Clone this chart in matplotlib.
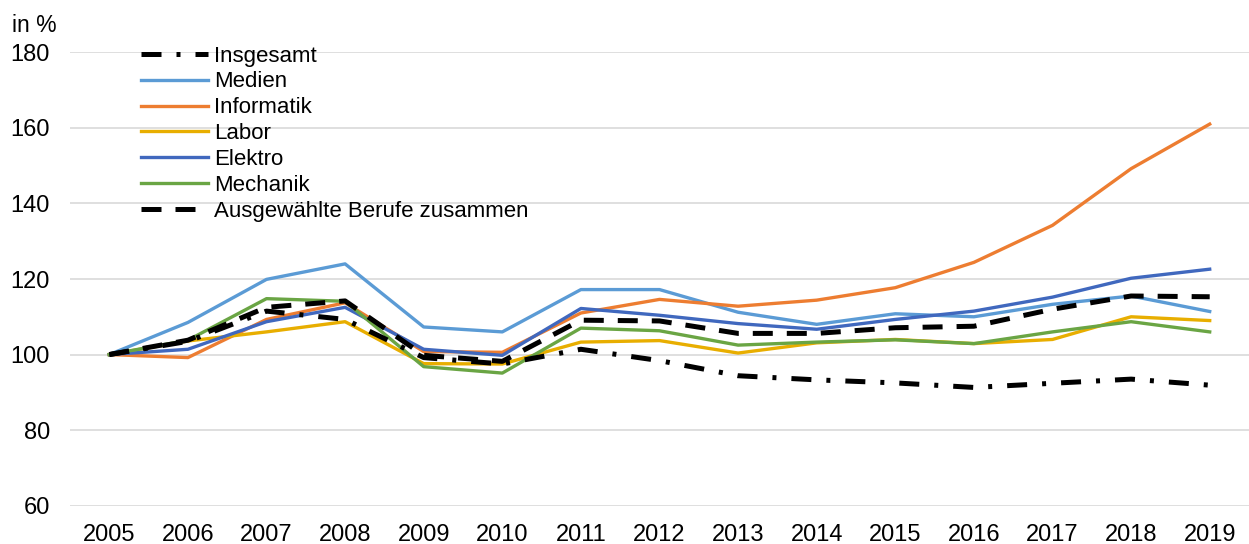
import matplotlib
matplotlib.use("Agg")
import matplotlib.pyplot as plt

years = [str(y) for y in range(2005, 2020)]
insgesamt = [100, 103.5, 111.5, 109.3, 99.2, 97.5, 101.4, 98.4, 94.4, 93.3, 92.5, 91.3, 92.4, 93.5, 91.9]
medien = [100, 108.5, 119.9, 124.0, 107.3, 106.0, 117.2, 117.2, 111.2, 108.0, 110.8, 110.0, 113.3, 115.5, 111.4]
informatik = [100, 99.2, 109.3, 113.7, 100.8, 100.6, 111.0, 114.6, 112.8, 114.4, 117.7, 124.4, 134.2, 149.2, 161.0]
labor = [100, 103.6, 106.0, 108.7, 97.6, 97.5, 103.3, 103.7, 100.4, 103.1, 104.0, 102.9, 104.0, 110.0, 109.0]
elektro = [100, 101.4, 108.7, 112.5, 101.4, 99.8, 112.2, 110.4, 108.2, 106.7, 109.3, 111.5, 115.2, 120.2, 122.6]
mechanik = [100, 103.8, 114.8, 114.1, 96.8, 95.1, 107.0, 106.3, 102.5, 103.3, 103.9, 102.9, 106.0, 108.7, 106.0]
zusammen = [100, 103.8, 112.5, 114.2, 99.8, 98.2, 109.1, 108.9, 105.6, 105.6, 107.1, 107.5, 112.0, 115.5, 115.3]
yticks = [60, 80, 100, 120, 140, 160, 180]

plt.rcParams['font.family'] = ['Liberation Sans', 'DejaVu Sans']

W, H = 1249, 544
fig = plt.figure(figsize=(W / 100, H / 100), dpi=100)
ax = fig.add_axes([70 / W, 1 - 505.7 / H, 1 - 70 / W, (505.7 - 52.3) / H])

x = list(range(len(years)))
ax.plot(x, insgesamt, color='black', lw=3.6, linestyle=(0, (4, 3, 0.8, 3)), label='Insgesamt', zorder=3)
ax.plot(x, medien, color='#5B9BD5', lw=2.4, label='Medien', zorder=2)
ax.plot(x, informatik, color='#ED7D31', lw=2.4, label='Informatik', zorder=2)
ax.plot(x, labor, color='#E8AE00', lw=2.4, label='Labor', zorder=2)
ax.plot(x, elektro, color='#4068BE', lw=2.4, label='Elektro', zorder=2)
ax.plot(x, mechanik, color='#6AA544', lw=2.4, label='Mechanik', zorder=2)
ax.plot(x, zusammen, color='black', lw=3.6, linestyle=(0, (4, 2.8)), label='Ausgewählte Berufe zusammen', zorder=4)

ax.set_xlim(-0.5, len(years) - 0.5)
ax.set_ylim(60, 180)
ax.set_xticks(x)
ax.set_xticklabels(years)
ax.set_yticks(yticks)
ax.tick_params(axis='both', length=0, labelsize=17, colors='black')
ax.tick_params(axis='y', pad=14.4)
ax.tick_params(axis='x', pad=13)
ax.grid(axis='y', color='#D9D9D9', lw=1.2)
ax.set_axisbelow(True)
for s in ax.spines.values():
    s.set_visible(False)

fig.text(12 / W, 1 - 26 / H, 'in %', fontsize=16.5, va='center', ha='left')

leg = fig.legend(loc='upper left', bbox_to_anchor=(121 / W, 1 - 25.6 / H), frameon=False,
                 fontsize=16, handlelength=3.0, handletextpad=0.27, labelspacing=0.22,
                 borderpad=0.4)

fig.savefig('out.png', dpi=100)
